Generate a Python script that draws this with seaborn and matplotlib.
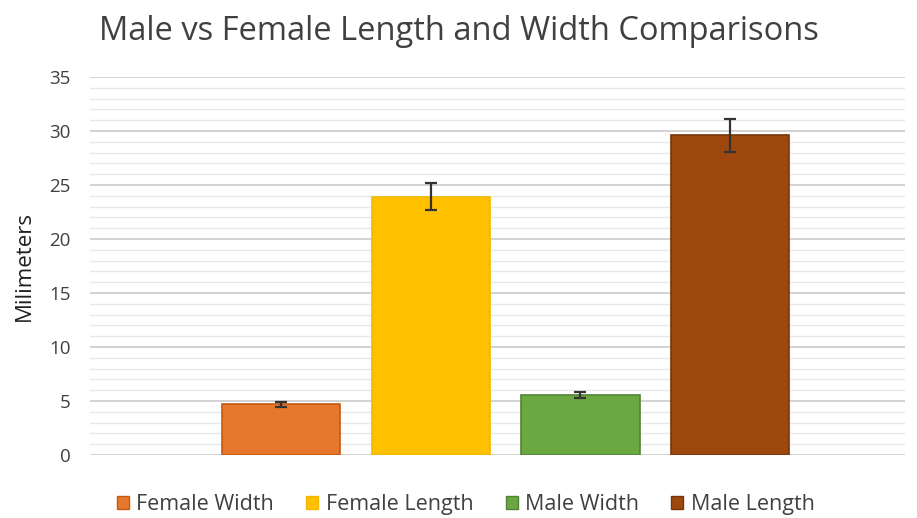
import matplotlib

matplotlib.use("Agg")
import matplotlib.pyplot as plt
import pandas as pd
import seaborn as sns
from matplotlib.ticker import MultipleLocator

# --------------------------------------------------------------------- #
# Data
# --------------------------------------------------------------------- #
SERIES = ["Female Width", "Female Length", "Male Width", "Male Length"]
MEANS = [4.7, 23.9, 5.55, 29.6]
ERRORS = [0.25, 1.25, 0.3, 1.5]

COLORS = ["#E8772E", "#FFC000", "#6BA841", "#9E480E"]
EDGES = ["#C55A11", "#F2B800", "#548235", "#7A3408"]

sns.set_style("white")
plt.rcParams["font.family"] = ["Open Sans", "DejaVu Sans"]

df = pd.DataFrame({"series": SERIES, "mm": MEANS})

fig = plt.figure(figsize=(9.17, 5.18), dpi=100)
ax = fig.add_axes([0.098, 0.1216, 0.889, 0.7298])

sns.barplot(data=df, x="series", y="mm", hue="series", palette=COLORS,
            saturation=1, width=0.79, dodge=False, legend=False, ax=ax,
            zorder=3)
for patch, ec in zip(ax.patches, EDGES):
    patch.set_edgecolor(ec)
    patch.set_linewidth(1.2)

ax.errorbar(range(len(SERIES)), MEANS, yerr=ERRORS, fmt="none",
            ecolor="#333333", elinewidth=1.6, capsize=4.5, capthick=1.6,
            zorder=4)

ax.set_xlim(-1.28, 4.17)
ax.set_ylim(0, 35)
ax.yaxis.set_major_locator(MultipleLocator(5))
ax.yaxis.set_minor_locator(MultipleLocator(1))
ax.grid(axis="y", which="major", color="#CFCFCF", linewidth=1.3, zorder=0)
ax.grid(axis="y", which="minor", color="#E8E8E8", linewidth=1.0, zorder=0)
ax.set_axisbelow(True)
for s in ax.spines.values():
    s.set_visible(False)
ax.set_xticks([])
ax.set_xlabel("")
ax.tick_params(axis="y", which="both", length=0, labelsize=13.5,
               labelcolor="#404040", pad=14)
ax.set_ylabel("Milimeters", fontsize=16, color="#202020", labelpad=10)

fig.suptitle("Male vs Female Length and Width Comparisons", x=0.5,
             y=0.972, fontsize=23.5, color="#404040")

handles = [plt.Rectangle((0, 0), 1, 1, facecolor=c, edgecolor=e, linewidth=1)
           for c, e in zip(COLORS, EDGES)]
fig.legend(handles, SERIES, loc="lower center", ncol=4, frameon=False,
           bbox_to_anchor=(0.508, -0.032), fontsize=15.5, handlelength=0.55,
           handleheight=0.55, handletextpad=0.35, columnspacing=1.5,
           labelcolor="#404040")

fig.savefig("out.png", dpi=100)
plt.close(fig)
